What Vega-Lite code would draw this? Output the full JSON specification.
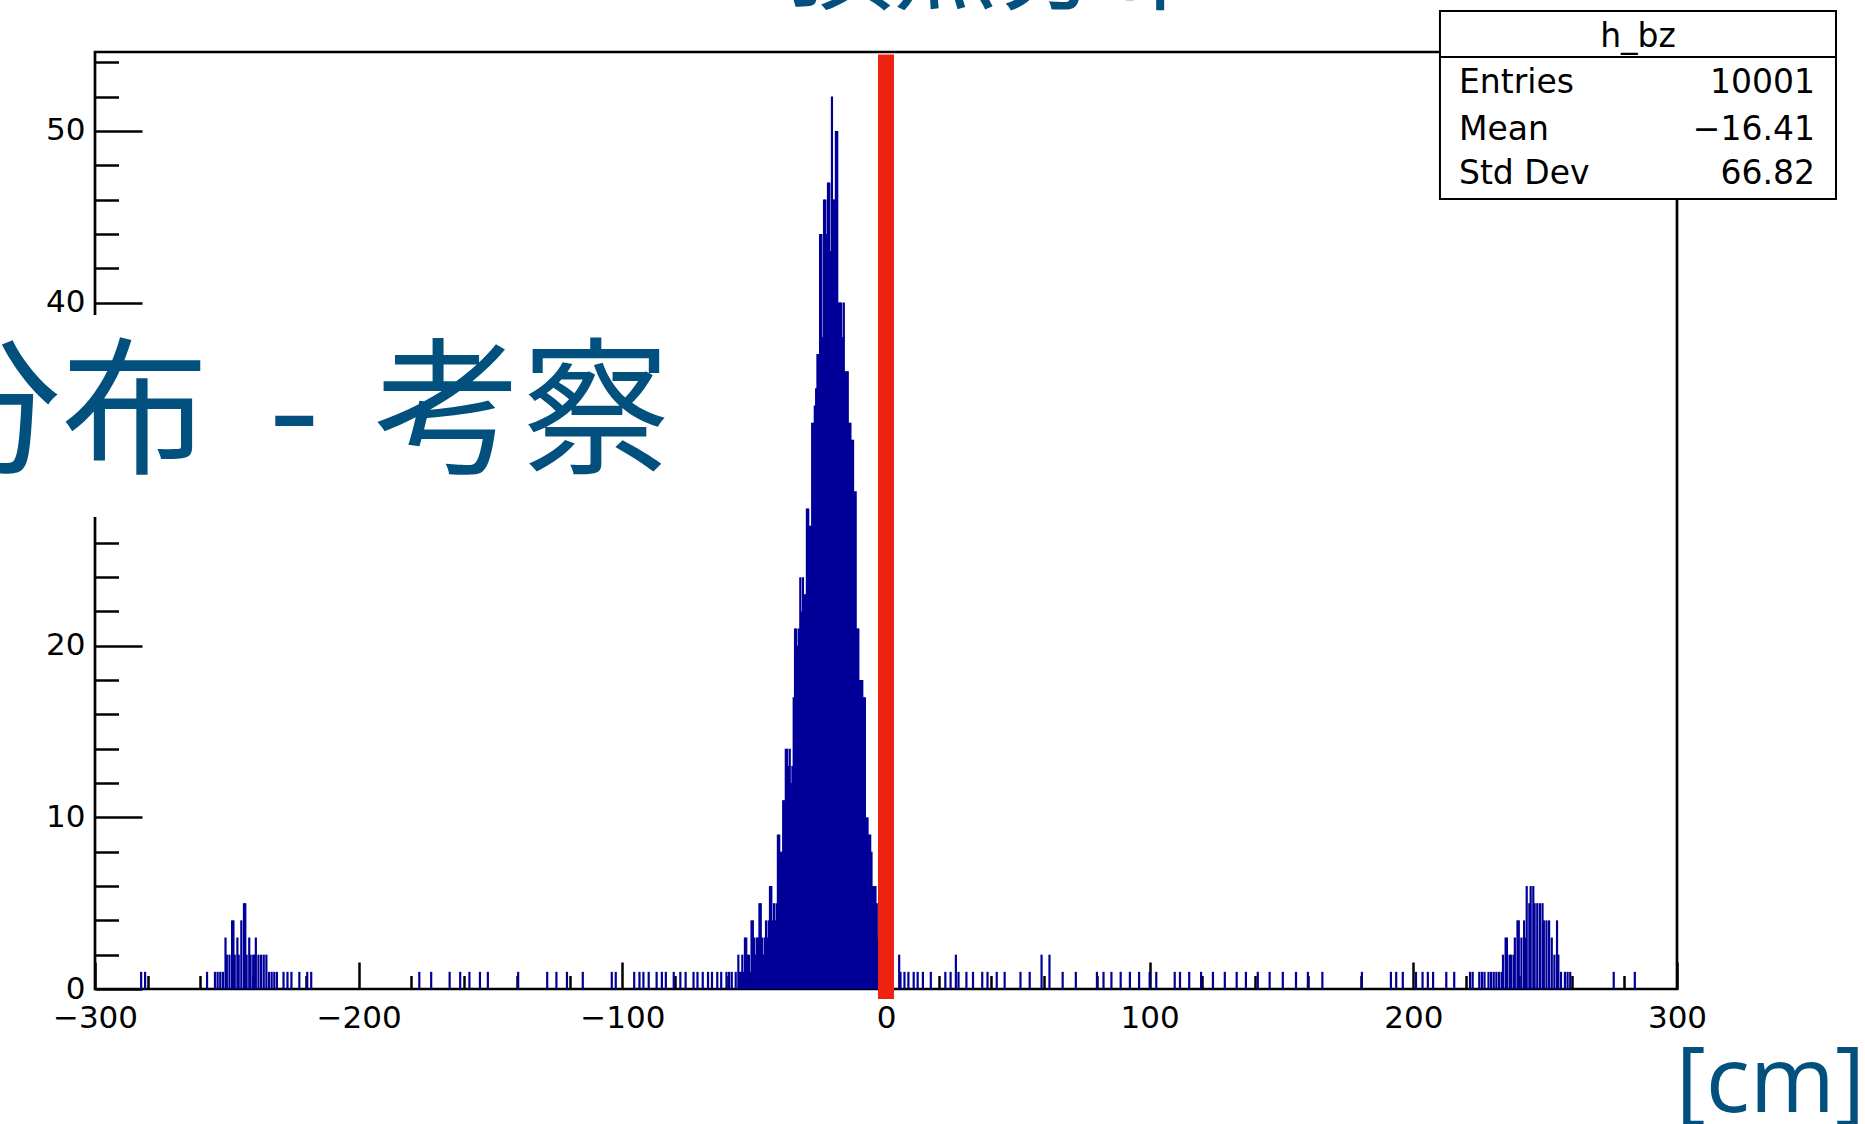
{
  "$schema": "https://vega.github.io/schema/vega-lite/v6.json",
  "autosize": "none",
  "width": 1582,
  "height": 937,
  "padding": {"left": 95, "top": 52, "right": 188, "bottom": 135},
  "background": "white",
  "config": {
    "view": {"stroke": "black", "strokeWidth": 2.7},
    "text": {"font": "DejaVu Sans", "fontSize": 33, "color": "black"}
  },
  "datasets": {
    "bz": [
      {"z": -282.5, "n": 1}, {"z": -281, "n": 1},
      {"z": -257.5, "n": 1}, {"z": -254.5, "n": 1}, {"z": -253.5, "n": 1}, {"z": -252.5, "n": 1}, {"z": -251.5, "n": 1},
      {"z": -250.5, "n": 3}, {"z": -250, "n": 2}, {"z": -249, "n": 2}, {"z": -248, "n": 4}, {"z": -247.5, "n": 4},
      {"z": -247, "n": 2}, {"z": -246, "n": 3}, {"z": -245.5, "n": 2}, {"z": -244.5, "n": 4}, {"z": -243.5, "n": 5},
      {"z": -243, "n": 5}, {"z": -242.5, "n": 2}, {"z": -241.5, "n": 3}, {"z": -241, "n": 2}, {"z": -240, "n": 2},
      {"z": -239.5, "n": 2}, {"z": -239, "n": 3}, {"z": -238, "n": 2}, {"z": -237, "n": 2}, {"z": -236, "n": 2},
      {"z": -235, "n": 2}, {"z": -234, "n": 1}, {"z": -233, "n": 1}, {"z": -232, "n": 1}, {"z": -231, "n": 1},
      {"z": -228.5, "n": 1}, {"z": -227, "n": 1}, {"z": -225.5, "n": 1}, {"z": -222.5, "n": 1}, {"z": -219.5, "n": 1}, {"z": -218, "n": 1},
      {"z": -177, "n": 1}, {"z": -172.5, "n": 1}, {"z": -165.5, "n": 1}, {"z": -161.5, "n": 1}, {"z": -158, "n": 1},
      {"z": -154, "n": 1}, {"z": -151, "n": 1}, {"z": -139.5, "n": 1}, {"z": -128.5, "n": 1}, {"z": -125, "n": 1},
      {"z": -121, "n": 1}, {"z": -115, "n": 1}, {"z": -104, "n": 1}, {"z": -102.5, "n": 1}, {"z": -95.5, "n": 1},
      {"z": -93.5, "n": 1}, {"z": -92, "n": 1}, {"z": -90, "n": 1}, {"z": -87, "n": 1}, {"z": -85, "n": 1},
      {"z": -83.5, "n": 1}, {"z": -80.5, "n": 1}, {"z": -78, "n": 1}, {"z": -76, "n": 1}, {"z": -73, "n": 1}, {"z": -71.5, "n": 1},
      {"z": -69.5, "n": 1}, {"z": -67.5, "n": 1}, {"z": -66, "n": 1}, {"z": -64, "n": 1}, {"z": -62.5, "n": 1},
      {"z": -60.5, "n": 1}, {"z": -59.5, "n": 1}, {"z": -58.5, "n": 1}, {"z": -57, "n": 1}, {"z": -56, "n": 2},
      {"z": -55.5, "n": 1}, {"z": -55, "n": 1}, {"z": -54.5, "n": 2}, {"z": -54, "n": 1}, {"z": -53.5, "n": 3},
      {"z": -53, "n": 3}, {"z": -52.5, "n": 2}, {"z": -52, "n": 2}, {"z": -51.5, "n": 1}, {"z": -51, "n": 4},
      {"z": -50.5, "n": 4}, {"z": -50, "n": 3}, {"z": -49.5, "n": 2}, {"z": -49, "n": 3}, {"z": -48.5, "n": 3},
      {"z": -48, "n": 5}, {"z": -47.5, "n": 5}, {"z": -47, "n": 3}, {"z": -46.5, "n": 2}, {"z": -46, "n": 3},
      {"z": -45.5, "n": 4}, {"z": -45, "n": 3}, {"z": -44.5, "n": 4}, {"z": -44, "n": 6}, {"z": -43.5, "n": 6},
      {"z": -43, "n": 4}, {"z": -42.5, "n": 5}, {"z": -42, "n": 4}, {"z": -41.5, "n": 5}, {"z": -41, "n": 9},
      {"z": -40.5, "n": 9}, {"z": -40, "n": 8}, {"z": -39.5, "n": 8}, {"z": -39, "n": 11}, {"z": -38.5, "n": 11},
      {"z": -38, "n": 14}, {"z": -37.5, "n": 14}, {"z": -37, "n": 13}, {"z": -36.5, "n": 14}, {"z": -36, "n": 12},
      {"z": -35.5, "n": 13}, {"z": -35, "n": 17}, {"z": -34.5, "n": 21}, {"z": -34, "n": 21}, {"z": -33.5, "n": 20},
      {"z": -33, "n": 21}, {"z": -32.5, "n": 24}, {"z": -32, "n": 22}, {"z": -31.5, "n": 24}, {"z": -31, "n": 23},
      {"z": -30.5, "n": 23}, {"z": -30, "n": 28}, {"z": -29.5, "n": 28}, {"z": -29, "n": 27}, {"z": -28.5, "n": 27},
      {"z": -28, "n": 33}, {"z": -27.5, "n": 33}, {"z": -27, "n": 34}, {"z": -26.5, "n": 35}, {"z": -26, "n": 37},
      {"z": -25.5, "n": 37}, {"z": -25, "n": 44}, {"z": -24.5, "n": 44}, {"z": -24, "n": 38}, {"z": -23.5, "n": 46},
      {"z": -23, "n": 46}, {"z": -22.5, "n": 44}, {"z": -22, "n": 47}, {"z": -21.5, "n": 47}, {"z": -21, "n": 43},
      {"z": -20.5, "n": 52}, {"z": -20, "n": 46}, {"z": -19.5, "n": 46}, {"z": -19, "n": 50}, {"z": -18.5, "n": 50},
      {"z": -18, "n": 40}, {"z": -17.5, "n": 40}, {"z": -17, "n": 40}, {"z": -16.5, "n": 38}, {"z": -16, "n": 40},
      {"z": -15.5, "n": 36}, {"z": -15, "n": 36}, {"z": -14.5, "n": 36}, {"z": -14, "n": 33}, {"z": -13.5, "n": 33},
      {"z": -13, "n": 32}, {"z": -12.5, "n": 32}, {"z": -12, "n": 29}, {"z": -11.5, "n": 29}, {"z": -11, "n": 21},
      {"z": -10.5, "n": 21}, {"z": -10, "n": 18}, {"z": -9.5, "n": 18}, {"z": -9, "n": 18}, {"z": -8.5, "n": 17},
      {"z": -8, "n": 17}, {"z": -7.5, "n": 10}, {"z": -7, "n": 10}, {"z": -6.5, "n": 9}, {"z": -6, "n": 9},
      {"z": -5.5, "n": 8}, {"z": -5, "n": 6}, {"z": -4.5, "n": 6}, {"z": -4, "n": 6}, {"z": -3.5, "n": 5},
      {"z": -3, "n": 3}, {"z": -2.5, "n": 3}, {"z": -2, "n": 2}, {"z": -1.5, "n": 2}, {"z": -1, "n": 1},
      {"z": 0, "n": 1}, {"z": 1, "n": 1}, {"z": 2, "n": 1},
      {"z": 5, "n": 2}, {"z": 5.5, "n": 1}, {"z": 7, "n": 1}, {"z": 8.5, "n": 1}, {"z": 10.5, "n": 1},
      {"z": 12, "n": 1}, {"z": 14, "n": 1}, {"z": 17, "n": 1}, {"z": 22.5, "n": 1}, {"z": 24.5, "n": 1},
      {"z": 26.5, "n": 2}, {"z": 27.5, "n": 1}, {"z": 30.5, "n": 1}, {"z": 33, "n": 1}, {"z": 36.5, "n": 1},
      {"z": 38.5, "n": 1}, {"z": 42, "n": 1}, {"z": 45, "n": 1}, {"z": 51, "n": 1}, {"z": 54.5, "n": 1},
      {"z": 59, "n": 2}, {"z": 62, "n": 2}, {"z": 67, "n": 1}, {"z": 72, "n": 1}, {"z": 80, "n": 1},
      {"z": 82.5, "n": 1}, {"z": 85.5, "n": 1}, {"z": 89, "n": 1}, {"z": 92.5, "n": 1}, {"z": 96, "n": 1},
      {"z": 100, "n": 1}, {"z": 102.5, "n": 1}, {"z": 109.5, "n": 1}, {"z": 111.5, "n": 1}, {"z": 115, "n": 1},
      {"z": 119.5, "n": 1}, {"z": 124, "n": 1}, {"z": 128.5, "n": 1}, {"z": 133, "n": 1}, {"z": 136.5, "n": 1},
      {"z": 141, "n": 1}, {"z": 145.5, "n": 1}, {"z": 150.5, "n": 1}, {"z": 155.5, "n": 1}, {"z": 160, "n": 1},
      {"z": 165.5, "n": 1}, {"z": 180.5, "n": 1}, {"z": 191.5, "n": 1}, {"z": 193.5, "n": 1}, {"z": 196, "n": 1},
      {"z": 201, "n": 1}, {"z": 203.5, "n": 1}, {"z": 205.5, "n": 1}, {"z": 207.5, "n": 1},
      {"z": 212.5, "n": 1}, {"z": 215.5, "n": 1}, {"z": 221.5, "n": 1}, {"z": 222.5, "n": 1}, {"z": 225, "n": 1},
      {"z": 226, "n": 1}, {"z": 227, "n": 1}, {"z": 228.5, "n": 1}, {"z": 229.5, "n": 1}, {"z": 230.5, "n": 1},
      {"z": 231.5, "n": 1}, {"z": 232.5, "n": 1}, {"z": 233.5, "n": 1}, {"z": 234, "n": 2}, {"z": 235, "n": 3},
      {"z": 235.5, "n": 3}, {"z": 236.5, "n": 2}, {"z": 237, "n": 2}, {"z": 238, "n": 2}, {"z": 238.5, "n": 3},
      {"z": 239.5, "n": 4}, {"z": 240, "n": 4}, {"z": 241, "n": 3}, {"z": 242, "n": 4}, {"z": 242.5, "n": 3},
      {"z": 243, "n": 6}, {"z": 244, "n": 5}, {"z": 244.5, "n": 6}, {"z": 245.5, "n": 6}, {"z": 246, "n": 5},
      {"z": 247, "n": 5}, {"z": 248, "n": 5}, {"z": 249, "n": 5}, {"z": 249.5, "n": 4}, {"z": 250.5, "n": 4},
      {"z": 251.5, "n": 4}, {"z": 252.5, "n": 3}, {"z": 253.5, "n": 2}, {"z": 254.5, "n": 4}, {"z": 255, "n": 2},
      {"z": 256, "n": 1}, {"z": 257.5, "n": 1}, {"z": 258.5, "n": 1}, {"z": 259.5, "n": 1}, {"z": 276, "n": 1}, {"z": 284, "n": 1}
    ]
  },
  "layer": [
    {
      "data": {"name": "bz"},
      "mark": {"type": "rule", "color": "#000099", "strokeWidth": 2.2, "strokeCap": "butt"},
      "encoding": {
        "x": {
          "field": "z", "type": "quantitative",
          "scale": {"domain": [-300, 300], "nice": false, "zero": false},
          "axis": {
            "title": null, "domain": false, "grid": false, "tickCount": 100, "format": "d",
            "values": [-300, -280, -260, -240, -220, -200, -180, -160, -140, -120, -100, -80, -60, -40, -20, 0, 20, 40, 60, 80, 100, 120, 140, 160, 180, 200, 220, 240, 260, 280, 300],
            "tickColor": "black", "tickWidth": 2.5,
            "tickSize": {"condition": {"test": "datum.value % 100 === 0", "value": -27}, "value": -13.5},
            "labelExpr": "datum.value % 100 === 0 ? datum.label : ''",
            "labelFont": "DejaVu Sans", "labelFontSize": 31, "labelColor": "black",
            "labelPadding": 41, "labelFlush": false, "labelOverlap": false, "labelBound": false
          }
        },
        "y": {
          "field": "n", "type": "quantitative",
          "scale": {"domain": [0, 54.6], "nice": false, "zero": true},
          "axis": {
            "title": null, "domain": false, "grid": false, "tickCount": 100, "format": "d",
            "values": [0, 2, 4, 6, 8, 10, 12, 14, 16, 18, 20, 22, 24, 26, 28, 30, 32, 34, 36, 38, 40, 42, 44, 46, 48, 50, 52, 54],
            "tickColor": "black", "tickWidth": 2.5,
            "tickSize": {"condition": {"test": "datum.value % 10 === 0", "value": -47}, "value": -23.5},
            "labelExpr": "datum.value % 10 === 0 ? datum.label : ''",
            "labelFont": "DejaVu Sans", "labelFontSize": 31, "labelColor": "black",
            "labelPadding": 57, "labelFlush": false, "labelOverlap": false, "labelBound": false
          }
        },
        "y2": {"datum": 0}
      }
    },
    {
      "data": {"values": [{}]},
      "mark": {"type": "rule", "color": "#ee2211", "strokeWidth": 16, "strokeCap": "butt"},
      "encoding": {"x": {"datum": 0}, "y": {"datum": 54.45}, "y2": {"datum": -0.58}}
    },
    {
      "data": {"values": [{}]},
      "mark": {"type": "rect", "fill": "white"},
      "encoding": {"x": {"datum": -345}, "x2": {"datum": -90}, "y": {"datum": 39.28}, "y2": {"datum": 27.5}}
    },
    {
      "data": {"values": [{}]},
      "mark": {"type": "text", "font": "Noto Sans CJK JP", "fontSize": 148, "fontWeight": 400, "color": "#02507e", "align": "right", "baseline": "alphabetic"},
      "encoding": {"x": {"datum": -256.8}, "y": {"datum": 30.71}, "text": {"value": "分布"}}
    },
    {
      "data": {"values": [{}]},
      "mark": {"type": "text", "font": "Noto Sans CJK JP", "fontSize": 148, "fontWeight": 400, "color": "#02507e", "align": "center", "baseline": "alphabetic"},
      "encoding": {"x": {"datum": -224.5}, "y": {"datum": 30.71}, "text": {"value": "-"}}
    },
    {
      "data": {"values": [{}]},
      "mark": {"type": "text", "font": "Noto Sans CJK JP", "fontSize": 148, "fontWeight": 400, "color": "#02507e", "align": "left", "baseline": "alphabetic"},
      "encoding": {"x": {"datum": -194.2}, "y": {"datum": 30.71}, "text": {"value": "考察"}}
    },
    {
      "data": {"values": [{}]},
      "mark": {"type": "text", "font": "Noto Sans CJK JP", "fontSize": 105, "fontWeight": 400, "color": "#02507e", "align": "right", "baseline": "alphabetic"},
      "encoding": {"x": {"datum": 122}, "y": {"datum": 57.58}, "text": {"value": "頂点分布"}}
    },
    {
      "data": {"values": [{}]},
      "mark": {"type": "rect", "fill": "white", "stroke": "black", "strokeWidth": 2},
      "encoding": {"x": {"datum": 210.1}, "x2": {"datum": 360.3}, "y": {"datum": 56.99}, "y2": {"datum": 46.04}}
    },
    {
      "data": {"values": [{}]},
      "mark": {"type": "rule", "color": "black", "strokeWidth": 2},
      "encoding": {"x": {"datum": 210.1}, "x2": {"datum": 360.3}, "y": {"datum": 54.31}}
    },
    {
      "data": {"values": [{}]},
      "mark": {"type": "text", "align": "center", "baseline": "alphabetic"},
      "encoding": {"x": {"datum": 285.2}, "y": {"datum": 54.92}, "text": {"value": "h_bz"}}
    },
    {
      "data": {"values": [{}]},
      "mark": {"type": "text", "align": "left", "baseline": "alphabetic"},
      "encoding": {"x": {"datum": 217.3}, "y": {"datum": 52.21}, "text": {"value": "Entries"}}
    },
    {
      "data": {"values": [{}]},
      "mark": {"type": "text", "align": "right", "baseline": "alphabetic"},
      "encoding": {"x": {"datum": 352.3}, "y": {"datum": 52.21}, "text": {"value": "10001"}}
    },
    {
      "data": {"values": [{}]},
      "mark": {"type": "text", "align": "left", "baseline": "alphabetic"},
      "encoding": {"x": {"datum": 217.3}, "y": {"datum": 49.5}, "text": {"value": "Mean"}}
    },
    {
      "data": {"values": [{}]},
      "mark": {"type": "text", "align": "right", "baseline": "alphabetic"},
      "encoding": {"x": {"datum": 352.3}, "y": {"datum": 49.5}, "text": {"value": "−16.41"}}
    },
    {
      "data": {"values": [{}]},
      "mark": {"type": "text", "align": "left", "baseline": "alphabetic"},
      "encoding": {"x": {"datum": 217.3}, "y": {"datum": 46.91}, "text": {"value": "Std Dev"}}
    },
    {
      "data": {"values": [{}]},
      "mark": {"type": "text", "align": "right", "baseline": "alphabetic"},
      "encoding": {"x": {"datum": 352.3}, "y": {"datum": 46.91}, "text": {"value": "66.82"}}
    },
    {
      "data": {"values": [{}]},
      "mark": {"type": "text", "font": "Open Sans", "fontSize": 92, "color": "#02507e", "align": "left", "baseline": "alphabetic"},
      "encoding": {"x": {"datum": 299.5}, "y": {"datum": -7.17}, "text": {"value": "[cm]"}}
    }
  ]
}
